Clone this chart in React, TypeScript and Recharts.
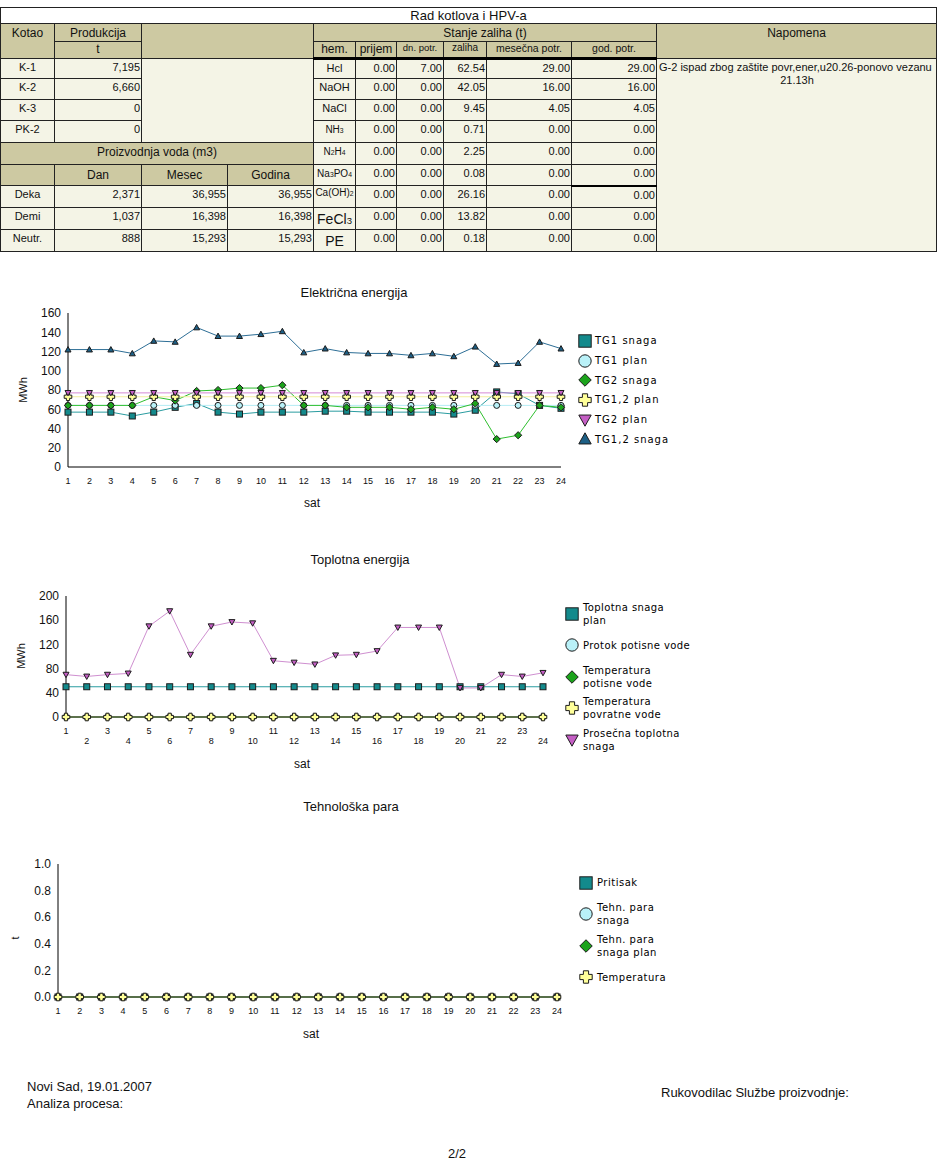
import React from 'react';
import { LineChart, Line, XAxis, YAxis, Legend } from 'recharts';

const FONT = '"Liberation Sans", Arial, sans-serif';
const TAN = '#cdc9a2';
const CREAM = '#f4f4e6';
const B = '1px solid #222';

// ---- tabela ----
const kotlovi = ['K-1', 'K-2', 'K-3', 'PK-2'];
const produkcija = ['7,195', '6,660', '0', '0'];
const vode = ['Deka', 'Demi', 'Neutr.'];
const vodaDan = ['2,371', '1,037', '888'];
const vodaMesec = ['36,955', '16,398', '15,293'];
const vodaGodina = ['36,955', '16,398', '15,293'];
const hemikalije = ['Hcl', 'NaOH', 'NaCl', 'NH3', 'N2H4', 'Na3PO4', 'Ca(OH)2', 'FeCl3', 'PE'];
const prijem = ['0.00', '0.00', '0.00', '0.00', '0.00', '0.00', '0.00', '0.00', '0.00'];
const dnPotr = ['7.00', '0.00', '0.00', '0.00', '0.00', '0.00', '0.00', '0.00', '0.00'];
const zaliha = ['62.54', '42.05', '9.45', '0.71', '2.25', '0.08', '26.16', '13.82', '0.18'];
const mesecnaPotr = ['29.00', '16.00', '4.05', '0.00', '0.00', '0.00', '0.00', '0.00', '0.00'];
const godPotr = ['29.00', '16.00', '4.05', '0.00', '0.00', '0.00', '0.00', '0.00', '0.00'];
const napomena = ['G-2 ispad zbog zaštite povr,ener,u20.26-ponovo vezanu', '21.13h'];

// ---- grafikoni ----
const sati = [1, 2, 3, 4, 5, 6, 7, 8, 9, 10, 11, 12, 13, 14, 15, 16, 17, 18, 19, 20, 21, 22, 23, 24];

// Električna energija (MWh)
const tg1Snaga = [57, 57, 57, 53, 57, 62, 66, 57, 55, 57, 57, 57, 58, 58, 57, 57, 57, 57, 55, 59, 78, 76, 64, 61];
const tg1Plan = [64, 64, 64, 64, 64, 64, 64, 64, 64, 64, 64, 64, 64, 64, 64, 64, 64, 64, 64, 64, 64, 64, 64, 64];
const tg2Snaga = [64, 64, 64, 64, 73, 69, 79, 80, 82, 82, 85, 64, 64, 62, 62, 62, 60, 62, 60, 66, 29, 33, 64, 62];
const tg12Plan = [73, 73, 73, 73, 73, 73, 73, 73, 73, 73, 73, 73, 73, 73, 73, 73, 73, 73, 73, 73, 73, 73, 73, 73];
const tg2Plan = [77, 77, 77, 77, 77, 77, 77, 77, 77, 77, 77, 77, 77, 77, 77, 77, 77, 77, 77, 77, 77, 77, 77, 77];
const tg12Snaga = [122, 122, 122, 118, 131, 130, 145, 136, 136, 138, 141, 119, 123, 119, 118, 118, 116, 118, 115, 125, 107, 108, 130, 123];

// Toplotna energija (MWh)
const toplotnaPlan = [50, 50, 50, 50, 50, 50, 50, 50, 50, 50, 50, 50, 50, 50, 50, 50, 50, 50, 50, 50, 50, 50, 50, 50];
const protokPotisne = [0, 0, 0, 0, 0, 0, 0, 0, 0, 0, 0, 0, 0, 0, 0, 0, 0, 0, 0, 0, 0, 0, 0, 0];
const tempPotisne = [0, 0, 0, 0, 0, 0, 0, 0, 0, 0, 0, 0, 0, 0, 0, 0, 0, 0, 0, 0, 0, 0, 0, 0];
const tempPovratne = [0, 0, 0, 0, 0, 0, 0, 0, 0, 0, 0, 0, 0, 0, 0, 0, 0, 0, 0, 0, 0, 0, 0, 0];
const prosecnaToplotna = [70, 67, 70, 72, 150, 175, 103, 150, 157, 155, 93, 90, 87, 102, 103, 109, 148, 148, 148, 48, 48, 70, 67, 73];

// Tehnološka para (t)
const pritisak = [0, 0, 0, 0, 0, 0, 0, 0, 0, 0, 0, 0, 0, 0, 0, 0, 0, 0, 0, 0, 0, 0, 0, 0];
const tehnSnaga = [0, 0, 0, 0, 0, 0, 0, 0, 0, 0, 0, 0, 0, 0, 0, 0, 0, 0, 0, 0, 0, 0, 0, 0];
const tehnSnagaPlan = [0, 0, 0, 0, 0, 0, 0, 0, 0, 0, 0, 0, 0, 0, 0, 0, 0, 0, 0, 0, 0, 0, 0, 0];
const paraTemperatura = [0, 0, 0, 0, 0, 0, 0, 0, 0, 0, 0, 0, 0, 0, 0, 0, 0, 0, 0, 0, 0, 0, 0, 0];

const elecTicks = [0, 20, 40, 60, 80, 100, 120, 140, 160];
const heatTicks = [0, 40, 80, 120, 160, 200];
const paraTicks = [0, 0.2, 0.4, 0.6, 0.8, 1];

type Kind = 'square' | 'circle' | 'diamond' | 'cross' | 'triDown' | 'triUp';
type Series = { key: string; label: string[]; values: number[]; kind: Kind; fill: string; stroke: string };

const elecSeries: Series[] = [
  { key: 'tg1Snaga', label: ['TG1 snaga'], values: tg1Snaga, kind: 'square', fill: '#138a8c', stroke: '#2a9ca0' },
  { key: 'tg1Plan', label: ['TG1 plan'], values: tg1Plan, kind: 'circle', fill: '#b9f1f8', stroke: '#b4ecf4' },
  { key: 'tg2Snaga', label: ['TG2 snaga'], values: tg2Snaga, kind: 'diamond', fill: '#1ca31c', stroke: '#2fbf2f' },
  { key: 'tg12Plan', label: ['TG1,2 plan'], values: tg12Plan, kind: 'cross', fill: '#ffff99', stroke: '#f3eea0' },
  { key: 'tg2Plan', label: ['TG2 plan'], values: tg2Plan, kind: 'triDown', fill: '#c45ec4', stroke: '#d58ad5' },
  { key: 'tg12Snaga', label: ['TG1,2 snaga'], values: tg12Snaga, kind: 'triUp', fill: '#1d5f85', stroke: '#2d6e96' },
];

const heatSeries: Series[] = [
  { key: 'toplotnaPlan', label: ['Toplotna snaga', 'plan'], values: toplotnaPlan, kind: 'square', fill: '#138a8c', stroke: '#2a9ca0' },
  { key: 'protokPotisne', label: ['Protok potisne vode'], values: protokPotisne, kind: 'circle', fill: '#b9f1f8', stroke: '#b4ecf4' },
  { key: 'tempPotisne', label: ['Temperatura', 'potisne vode'], values: tempPotisne, kind: 'diamond', fill: '#1ca31c', stroke: '#2fbf2f' },
  { key: 'tempPovratne', label: ['Temperatura', 'povratne vode'], values: tempPovratne, kind: 'cross', fill: '#ffff99', stroke: '#f3eea0' },
  { key: 'prosecna', label: ['Prosečna toplotna', 'snaga'], values: prosecnaToplotna, kind: 'triDown', fill: '#c45ec4', stroke: '#cf8fd0' },
];

const paraSeries: Series[] = [
  { key: 'pritisak', label: ['Pritisak'], values: pritisak, kind: 'square', fill: '#138a8c', stroke: '#2a9ca0' },
  { key: 'tehnSnaga', label: ['Tehn. para', 'snaga'], values: tehnSnaga, kind: 'circle', fill: '#b9f1f8', stroke: '#b4ecf4' },
  { key: 'tehnPlan', label: ['Tehn. para', 'snaga plan'], values: tehnSnagaPlan, kind: 'diamond', fill: '#1ca31c', stroke: '#2fbf2f' },
  { key: 'temperatura', label: ['Temperatura'], values: paraTemperatura, kind: 'cross', fill: '#ffff99', stroke: '#f3eea0' },
];

function Marker({ kind, cx, cy, r, fill }: { kind: Kind; cx?: number; cy?: number; r: number; fill: string }) {
  if (cx == null || cy == null) return null;
  const st = { fill, stroke: '#1c1c1c', strokeWidth: 1 };
  switch (kind) {
    case 'square':
      return <rect x={cx - r} y={cy - r} width={2 * r} height={2 * r} {...st} />;
    case 'circle':
      return <circle cx={cx} cy={cy} r={r} {...st} />;
    case 'diamond': {
      const d = r * 1.2;
      return <polygon points={`${cx},${cy - d} ${cx + d},${cy} ${cx},${cy + d} ${cx - d},${cy}`} {...st} />;
    }
    case 'cross': {
      const a = r * 0.42;
      return (
        <path
          d={`M${cx - a},${cy - r}H${cx + a}V${cy - a}H${cx + r}V${cy + a}H${cx + a}V${cy + r}H${cx - a}V${cy + a}H${cx - r}V${cy - a}H${cx - a}Z`}
          {...st}
        />
      );
    }
    case 'triDown':
      return <polygon points={`${cx - r},${cy - r * 0.8} ${cx + r},${cy - r * 0.8} ${cx},${cy + r}`} {...st} />;
    default:
      return <polygon points={`${cx - r},${cy + r * 0.8} ${cx + r},${cy + r * 0.8} ${cx},${cy - r}`} {...st} />;
  }
}

const dotFor = (kind: Kind, fill: string) => (p: any) => (
  <Marker key={`m-${p.index}`} kind={kind} cx={p.cx} cy={p.cy} r={kind === 'cross' ? 3.8 : 3} fill={fill} />
);

function HourTick(props: any) {
  const { x, y, payload, index, stagger } = props;
  const dy = stagger && index % 2 === 1 ? 24 : 14;
  return (
    <text x={x} y={y + dy} textAnchor="middle" dominantBaseline="central" fontSize={9} fontFamily={FONT} fill="#111">
      {payload.value}
    </text>
  );
}

function LegendList({ series, itemH, gap, spacing }: { series: Series[]; itemH: number; gap: number; spacing: number }) {
  return (
    <div style={{ fontFamily: '"DejaVu Sans", sans-serif', fontSize: 10, color: '#000' }}>
      {series.map((se) => (
        <div key={se.key} style={{ height: itemH, display: 'flex', alignItems: 'center' }}>
          <svg width={14} height={14} style={{ flex: 'none' }}>
            <Marker kind={se.kind} cx={7} cy={7} r={se.kind === 'diamond' ? 5.2 : 6.2} fill={se.fill} />
          </svg>
          <div style={{ marginLeft: gap, lineHeight: '13px', letterSpacing: spacing, whiteSpace: 'nowrap' }}>
            {se.label.map((l, i) => (
              <div key={i}>{l}</div>
            ))}
          </div>
        </div>
      ))}
    </div>
  );
}

const CHART_W = 720;

function HourChart(props: {
  top: number;
  height: number;
  plot: { left: number; right: number; top: number; bottom: number };
  series: Series[];
  yTicks: number[];
  yFmt?: (v: number) => string;
  yTitle: string;
  yTitleX: number;
  yTitleY: number;
  satX: number;
  satY: number;
  legendLeft: number;
  legendTop: number;
  itemH: number;
  gap: number;
  spacing: number;
  stagger?: boolean;
}) {
  const { top, height, plot, series, yTicks, yFmt, yTitle, yTitleX, yTitleY, satX, satY } = props;
  const data = sati.map((s, i) => {
    const row: Record<string, number> = { sat: s };
    series.forEach((se) => (row[se.key] = se.values[i]));
    return row;
  });
  const xAxisH = 50;
  const margin = { top: plot.top, left: 4, right: CHART_W - plot.right, bottom: height - plot.bottom - xAxisH };
  return (
    <div style={{ position: 'absolute', left: 0, top }}>
      <LineChart width={CHART_W} height={height} data={data} margin={margin}>
        <XAxis
          dataKey="sat"
          height={xAxisH}
          interval={0}
          tickLine={false}
          tickSize={0}
          tickMargin={0}
          axisLine={{ stroke: '#000' }}
          tick={<HourTick stagger={props.stagger} />}
          label={() => (
            <text x={satX} y={satY} textAnchor="middle" dominantBaseline="central" fontSize={12} fontFamily={FONT} fill="#111">
              sat
            </text>
          )}
        />
        <YAxis
          width={plot.left - 4}
          domain={[yTicks[0], yTicks[yTicks.length - 1]]}
          ticks={yTicks}
          interval={0}
          tickFormatter={yFmt}
          tickLine={false}
          tickSize={4}
          tickMargin={3}
          axisLine={{ stroke: '#000' }}
          tick={{ fontSize: 12, fill: '#111', fontFamily: FONT }}
          label={() => (
            <text
              x={yTitleX}
              y={yTitleY}
              transform={`rotate(-90 ${yTitleX} ${yTitleY})`}
              textAnchor="middle"
              dominantBaseline="central"
              fontSize={11}
              fontFamily={FONT}
              fill="#111"
            >
              {yTitle}
            </text>
          )}
        />
        {series.map((se) => (
          <Line
            key={se.key}
            dataKey={se.key}
            name={se.label.join(' ')}
            type="linear"
            stroke={se.stroke}
            strokeWidth={1}
            dot={dotFor(se.kind, se.fill)}
            activeDot={false}
            isAnimationActive={false}
          />
        ))}
        <Legend
          layout="vertical"
          align="center"
          verticalAlign="middle"
          wrapperStyle={{ left: props.legendLeft, top: props.legendTop, width: 170 }}
          content={() => <LegendList series={series} itemH={props.itemH} gap={props.gap} spacing={props.spacing} />}
        />
      </LineChart>
    </div>
  );
}

function Sub({ name }: { name: string }) {
  return (
    <>
      {name.split(/(\d)/).map((p, i) =>
        /\d/.test(p) ? (
          <span key={i} style={{ fontSize: '0.68em' }}>
            {p}
          </span>
        ) : (
          p
        )
      )}
    </>
  );
}

function ReportTable() {
  const cell = (bg: string, extra: React.CSSProperties = {}): React.CSSProperties => ({
    border: B,
    background: bg,
    padding: '2px 1px 0 1px',
    fontSize: 11,
    lineHeight: '13px',
    verticalAlign: 'top',
    whiteSpace: 'nowrap',
    overflow: 'hidden',
    ...extra,
  });
  const num = (bg: string, extra: React.CSSProperties = {}) => cell(bg, { textAlign: 'right', ...extra });
  const mid = (bg: string, extra: React.CSSProperties = {}) => cell(bg, { textAlign: 'center', ...extra });
  const widths = [54, 87, 86, 86, 42, 41, 47, 43, 85, 85, 280];
  const rowH = [20, 21, 21, 22, 22, 21, 22, 21, 22];
  const chemSize = [11, 11, 11, 10, 10, 10, 10, 14, 14];

  return (
    <table
      style={{
        position: 'absolute',
        left: 0,
        top: 7,
        width: 936,
        borderCollapse: 'collapse',
        tableLayout: 'fixed',
        fontFamily: FONT,
        color: '#111',
      }}
    >
      <colgroup>
        {widths.map((w, i) => (
          <col key={i} style={{ width: w }} />
        ))}
      </colgroup>
      <tbody>
        <tr style={{ height: 16 }}>
          <td colSpan={11} style={mid('#fff', { fontSize: 13, lineHeight: '15px', paddingTop: 0 })}>
            Rad kotlova i HPV-a
          </td>
        </tr>
        <tr style={{ height: 18 }}>
          <td rowSpan={2} style={mid(TAN, { fontSize: 12, lineHeight: '14px' })}>Kotao</td>
          <td style={mid(TAN, { fontSize: 12, lineHeight: '14px' })}>Produkcija</td>
          <td colSpan={2} rowSpan={2} style={cell(TAN)} />
          <td colSpan={6} style={mid(TAN, { fontSize: 12, lineHeight: '14px' })}>Stanje zaliha (t)</td>
          <td rowSpan={2} style={mid(TAN, { fontSize: 12, lineHeight: '14px' })}>Napomena</td>
        </tr>
        <tr style={{ height: 17 }}>
          <td style={mid(TAN, { fontSize: 12, lineHeight: '13px', paddingTop: 1 })}>t</td>
          <td style={mid(TAN, { fontSize: 12, lineHeight: '13px', paddingTop: 1 })}>hem.</td>
          <td style={mid(TAN, { fontSize: 12, lineHeight: '13px', paddingTop: 1 })}>prijem</td>
          <td style={mid(TAN, { fontSize: 9.5, lineHeight: '12px', paddingTop: 0 })}>dn. potr.</td>
          <td style={mid(TAN, { fontSize: 10, lineHeight: '12px', paddingTop: 0 })}>zaliha</td>
          <td style={mid(TAN, { fontSize: 10.5, lineHeight: '12px', paddingTop: 0 })}>mesečna potr.</td>
          <td style={mid(TAN, { fontSize: 10.5, lineHeight: '12px', paddingTop: 0 })}>god. potr.</td>
        </tr>
        {hemikalije.map((hem, i) => {
          const thick: React.CSSProperties = i === 0 ? { borderTop: '3px solid #000' } : {};
          let left: React.ReactNode = null;
          if (i < 4) {
            left = (
              <>
                <td style={mid(CREAM)}>{kotlovi[i]}</td>
                <td style={num(CREAM)}>{produkcija[i]}</td>
                {i === 0 && <td rowSpan={4} colSpan={2} style={cell(CREAM)} />}
              </>
            );
          } else if (i === 4) {
            left = (
              <td colSpan={4} style={mid(TAN, { fontSize: 12, lineHeight: '14px' })}>
                Proizvodnja voda (m3)
              </td>
            );
          } else if (i === 5) {
            left = (
              <>
                <td style={cell(TAN)} />
                <td style={mid(TAN, { fontSize: 12, lineHeight: '14px', paddingTop: 3 })}>Dan</td>
                <td style={mid(TAN, { fontSize: 12, lineHeight: '14px', paddingTop: 3 })}>Mesec</td>
                <td style={mid(TAN, { fontSize: 12, lineHeight: '14px', paddingTop: 3 })}>Godina</td>
              </>
            );
          } else {
            const j = i - 6;
            left = (
              <>
                <td style={mid(CREAM)}>{vode[j]}</td>
                <td style={num(CREAM)}>{vodaDan[j]}</td>
                <td style={num(CREAM)}>{vodaMesec[j]}</td>
                <td style={num(CREAM)}>{vodaGodina[j]}</td>
              </>
            );
          }
          const big = chemSize[i] > 12;
          return (
            <tr key={hem} style={{ height: rowH[i] }}>
              {left}
              <td
                style={mid(CREAM, {
                  ...thick,
                  fontSize: chemSize[i],
                  lineHeight: big ? '16px' : '13px',
                  paddingTop: big ? 3 : i === 6 ? 0 : 2,
                  overflow: 'visible',
                })}
              >
                <Sub name={hem} />
              </td>
              <td style={num(CREAM, thick)}>{prijem[i]}</td>
              <td style={num(CREAM, thick)}>{dnPotr[i]}</td>
              <td style={num(CREAM, thick)}>{zaliha[i]}</td>
              <td style={num(CREAM, thick)}>{mesecnaPotr[i]}</td>
              <td style={num(CREAM, i === 6 ? { borderTop: '2px solid #000' } : thick)}>{godPotr[i]}</td>
              {i === 0 && (
                <td rowSpan={9} style={cell(CREAM, { overflow: 'visible', paddingLeft: 2 })}>
                  <div style={{ textAlign: 'left' }}>{napomena[0]}</div>
                  <div style={{ textAlign: 'center' }}>{napomena[1]}</div>
                </td>
              )}
            </tr>
          );
        })}
      </tbody>
    </table>
  );
}

function Title({ text, x, y }: { text: string; x: number; y: number }) {
  return (
    <div
      style={{
        position: 'absolute',
        left: x - 150,
        top: y - 8,
        width: 300,
        textAlign: 'center',
        fontSize: 13,
        lineHeight: '16px',
        fontFamily: FONT,
        color: '#111',
      }}
    >
      {text}
    </div>
  );
}

export default function App() {
  const text: React.CSSProperties = { position: 'absolute', fontFamily: FONT, fontSize: 13, lineHeight: '15px', color: '#111', whiteSpace: 'nowrap' };
  return (
    <div style={{ position: 'absolute', left: 0, top: 0, width: 943, height: 1164, background: '#fff', overflow: 'hidden' }}>
      <ReportTable />

      <Title text="Električna energija" x={354} y={293} />
      <HourChart
        top={280}
        height={250}
        plot={{ left: 68, right: 561, top: 33, bottom: 187 }}
        series={elecSeries}
        yTicks={elecTicks}
        yTitle="MWh"
        yTitleX={23}
        yTitleY={110}
        satX={312}
        satY={223}
        legendLeft={578}
        legendTop={51}
        itemH={19.7}
        gap={3}
        spacing={1}
      />

      <Title text="Toplotna energija" x={360} y={560} />
      <HourChart
        top={540}
        height={240}
        plot={{ left: 66, right: 543, top: 56, bottom: 177 }}
        series={heatSeries}
        yTicks={heatTicks}
        yTitle="MWh"
        yTitleX={21}
        yTitleY={116}
        satX={302}
        satY={224}
        legendLeft={565}
        legendTop={58}
        itemH={31.5}
        gap={4}
        spacing={0.4}
        stagger
      />

      <Title text="Tehnološka para" x={351} y={807} />
      <HourChart
        top={790}
        height={260}
        plot={{ left: 58, right: 557, top: 74, bottom: 207 }}
        series={paraSeries}
        yTicks={paraTicks}
        yFmt={(v: number) => v.toFixed(1)}
        yTitle="t"
        yTitleX={15}
        yTitleY={148}
        satX={311}
        satY={244}
        legendLeft={579}
        legendTop={77}
        itemH={31.5}
        gap={4}
        spacing={0.5}
      />

      <div style={{ ...text, left: 27, top: 1079 }}>Novi Sad, 19.01.2007</div>
      <div style={{ ...text, left: 27, top: 1096 }}>Analiza procesa:</div>
      <div style={{ ...text, left: 661, top: 1085 }}>Rukovodilac Službe proizvodnje:</div>
      <div style={{ ...text, left: 448, top: 1146 }}>2/2</div>
    </div>
  );
}
